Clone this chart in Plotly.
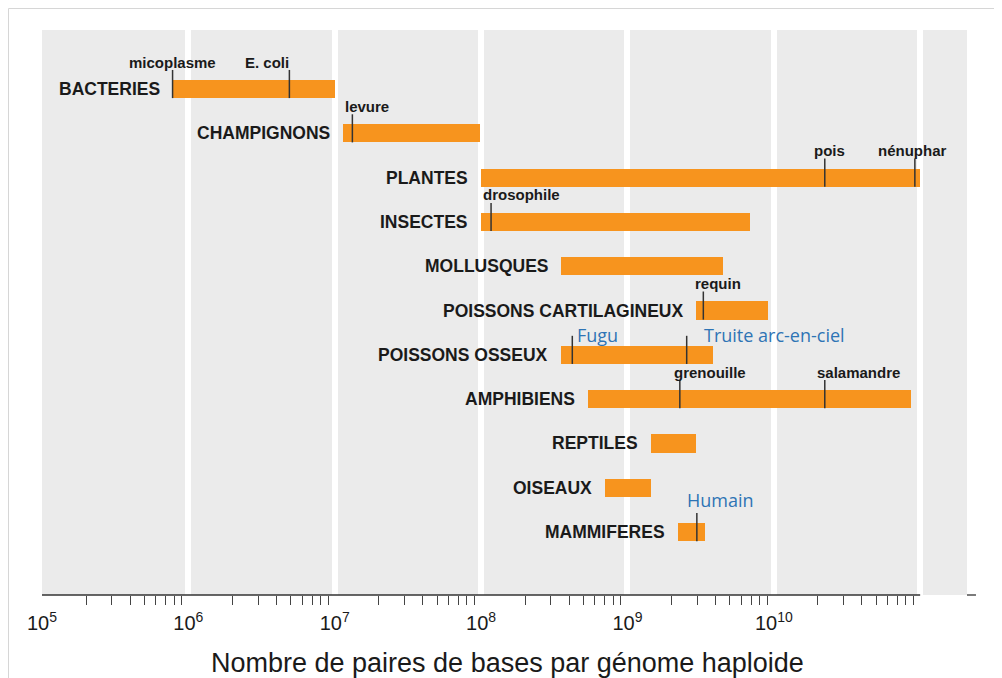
import numpy as np
import plotly.graph_objects as go

# groupes et étendue de la taille du génome (paires de bases)
groupes = [
    "BACTERIES", "CHAMPIGNONS", "PLANTES", "INSECTES", "MOLLUSQUES",
    "POISSONS CARTILAGINEUX", "POISSONS OSSEUX", "AMPHIBIENS",
    "REPTILES", "OISEAUX", "MAMMIFERES",
]
taille_min = [7.8e5, 1.14e7, 1.0e8, 1.0e8, 3.5e8, 2.95e9, 3.5e8, 5.4e8, 1.45e9, 7.0e8, 2.2e9]
taille_max = [1.0e7, 9.8e7, 1.0e11, 6.9e9, 4.5e9, 9.1e9, 3.85e9, 8.7e10, 2.95e9, 1.45e9, 3.4e9]

# espèces repères
especes = ["micoplasme", "E. coli", "levure", "pois", "nénuphar", "drosophile",
           "requin", "Fugu", "Truite arc-en-ciel", "grenouille", "salamandre", "Humain"]
especes_groupe = [0, 0, 1, 2, 2, 3, 5, 6, 6, 7, 7, 10]
especes_taille = [7.8e5, 4.9e6, 1.32e7, 2.23e10, 9.2e10, 1.17e8,
                  3.3e9, 4.2e8, 2.54e9, 2.28e9, 2.23e10, 2.98e9]
especes_bleues = ["Fugu", "Truite arc-en-ciel", "Humain"]

puissances = [5, 6, 7, 8, 9, 10, 11]

# mise en page des étiquettes d'espèces (décalage px, ancrage)
lbl_shift = {"micoplasme": (0, "center"), "E. coli": (2, "right"), "levure": (-9, "left"),
             "pois": (5, "center"), "nénuphar": (-3, "center"), "drosophile": (-10, "left"),
             "requin": (-10, "left"), "Fugu": (3, "left"), "Truite arc-en-ciel": (15, "left"),
             "grenouille": (-8, "left"), "salamandre": (-10, "left"), "Humain": (-12, "left")}

ORANGE = "#F7941E"
BLEU = "#2E74B5"
XMIN, XMAX = 5.0, 11.32
L, R, T, B = 34, 43, 22, 91
W, H = 1002, 678
PW, PH = W - L - R, H - T - B

rows = list(range(len(groupes)))

fig = go.Figure()
fig.add_trace(go.Bar(
    orientation="h",
    y=rows,
    base=taille_min,
    x=[b - a for a, b in zip(taille_min, taille_max)],
    width=0.41,
    marker=dict(color=ORANGE, line=dict(width=0)),
    hoverinfo="skip",
))

lx, ly = [], []
for g, v in zip(especes_groupe, especes_taille):
    lx += [v, v, None]
    ly += [g + 0.205, g - 0.43, None]
fig.add_trace(go.Scatter(x=lx, y=ly, mode="lines",
                         line=dict(color="#333333", width=1.5), hoverinfo="skip"))

annotations = []
for i, (name, start) in enumerate(zip(groupes, taille_min)):
    annotations.append(dict(
        x=np.log10(start), y=i, xref="x", yref="y", text=name, showarrow=False,
        xanchor="right", yanchor="middle", xshift=-11,
        font=dict(family="Liberation Sans, Arial", size=17.5, color="#1a1a1a", weight="bold"),
    ))

for name, g, v in zip(especes, especes_groupe, especes_taille):
    dx, anc = lbl_shift[name]
    if name in especes_bleues:
        font = dict(family="Open Sans, Noto Sans", size=18, color=BLEU)
        dy = 32 if name == "Humain" else 20
    else:
        font = dict(family="Liberation Sans, Arial", size=15, color="#1a1a1a", weight="bold")
        dy = 27
    annotations.append(dict(
        x=np.log10(v), y=g, xref="x", yref="y", text=name, showarrow=False,
        xanchor=anc, yanchor="middle", xshift=dx, yshift=dy, font=font,
    ))

annotations.append(dict(
    x=(499 - L) / PW, y=(T + PH - 655) / PH, xref="paper", yref="paper", showarrow=False,
    text="Nombre de paires de bases par génome haploide",
    xanchor="center", yanchor="middle",
    font=dict(family="Liberation Sans, Arial", size=27, color="#1a1a1a"),
))


def px(lg):
    return (lg - XMIN) / (XMAX - XMIN)


shapes = [
    # axe horizontal (s'arrête à 10^11)
    dict(type="line", xref="paper", yref="paper", x0=px(5), x1=px(11), y0=0, y1=0,
         line=dict(color="#333333", width=1.3)),
    dict(type="line", xref="paper", yref="paper", x0=1.0, x1=1.0097, y0=0, y1=0,
         line=dict(color="#333333", width=1.3)),
    # bord de la figure
    dict(type="rect", xref="paper", yref="paper",
         x0=-(L - 0.5) / PW, x1=1 + (R - 0.5) / PW,
         y0=-(B - 0.5) / PH, y1=1 + (T - 0.5) / PH,
         line=dict(color="#D6D6D6", width=1), fillcolor="rgba(0,0,0,0)", layer="below"),
]

minor_vals = [m * 10 ** p for p in range(5, 11) for m in range(2, 10)]

fig.update_layout(
    width=W, height=H,
    margin=dict(l=L, r=R, t=T, b=B),
    paper_bgcolor="white",
    plot_bgcolor="#EBEBEB",
    showlegend=False,
    bargap=0,
    annotations=annotations,
    shapes=shapes,
    xaxis=dict(
        type="log", range=[XMIN, XMAX],
        tickmode="array",
        tickvals=[10 ** p for p in puissances],
        ticktext=["10<sup>%d</sup>" % p if p < 11 else " " for p in puissances],
        ticks="outside", ticklen=10, tickcolor="rgba(0,0,0,0)",
        tickfont=dict(family="Liberation Sans, Arial", size=20, color="#1a1a1a"),
        showgrid=True, gridcolor="white", gridwidth=6,
        showline=False, zeroline=False,
        minor=dict(tickmode="array", tickvals=minor_vals, ticks="outside",
                   ticklen=9, tickwidth=1.2, tickcolor="#444444", showgrid=False),
    ),
    yaxis=dict(range=[11.42, -1.332], visible=False, showgrid=False, zeroline=False),
)

fig.write_html("out.html")
